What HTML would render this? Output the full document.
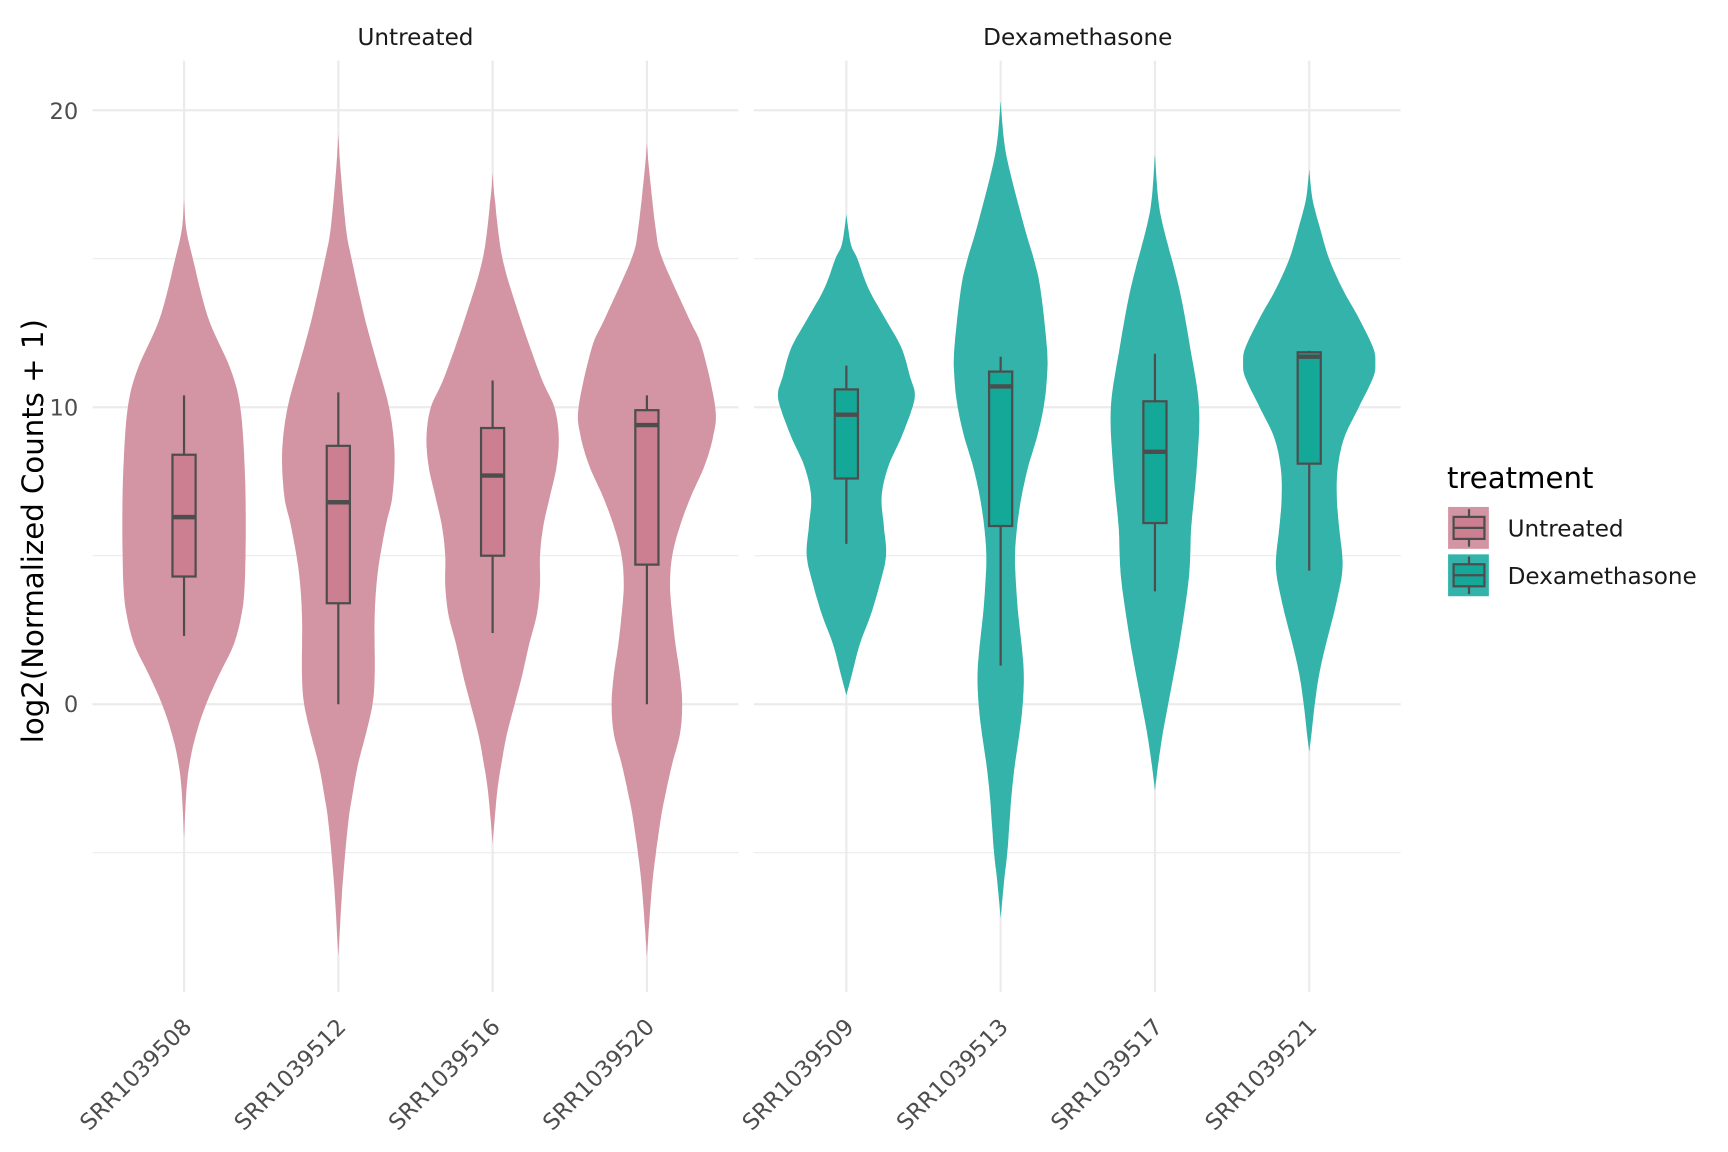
<!DOCTYPE html>
<html><head><meta charset="utf-8"><style>
html,body{margin:0;padding:0;background:#fff;}
svg{display:block;}
text{font-family:"DejaVu Sans","Liberation Sans",sans-serif;}
</style></head><body>
<svg id="s" width="1728" height="1152" viewBox="0 0 1568 1045.3" xmlns="http://www.w3.org/2000/svg">
<rect width="1568" height="1046" fill="#fff"/>
<g id="grid"></g>
<g id="vio"></g>
<g id="box"></g>
<text x="377" y="41" font-size="21" text-anchor="middle" fill="#1a1a1a">Untreated</text>
<text x="978" y="41" font-size="21" text-anchor="middle" fill="#1a1a1a">Dexamethasone</text>
<g font-size="20.5" fill="#4d4d4d" text-anchor="end">
<text x="71" y="108">20</text><text x="71" y="377">10</text><text x="71" y="646">0</text>
</g>
<text transform="translate(39,482) rotate(-90)" font-size="26.5" text-anchor="middle" fill="#000">log2(Normalized Counts + 1)</text>
<g id="xl" font-size="20.5" fill="#4d4d4d" text-anchor="end"></g>
<text x="1313" y="443" font-size="26.5" fill="#000">treatment</text>
<g>
<rect x="1314" y="460" width="37" height="38" fill="#d395a3"/>
<rect x="1319" y="469" width="28" height="20" fill="#cc7f90" stroke="#4d4d4d" stroke-width="2"/>
<line x1="1319" y1="479" x2="1347" y2="479" stroke="#4d4d4d" stroke-width="2"/>
<line x1="1333" y1="462" x2="1333" y2="469" stroke="#4d4d4d" stroke-width="2"/>
<line x1="1333" y1="489" x2="1333" y2="496" stroke="#4d4d4d" stroke-width="2"/>
<rect x="1314" y="503" width="37" height="38" fill="#33b3aa"/>
<rect x="1319" y="512" width="28" height="20" fill="#14a898" stroke="#4d4d4d" stroke-width="2"/>
<line x1="1319" y1="522" x2="1347" y2="522" stroke="#4d4d4d" stroke-width="2"/>
<line x1="1333" y1="505" x2="1333" y2="512" stroke="#4d4d4d" stroke-width="2"/>
<line x1="1333" y1="532" x2="1333" y2="539" stroke="#4d4d4d" stroke-width="2"/>
<text x="1368" y="487" font-size="21" fill="#1a1a1a">Untreated</text>
<text x="1368" y="530" font-size="21" fill="#1a1a1a">Dexamethasone</text>
</g>
</svg>
<script>
var NS="http://www.w3.org/2000/svg";
function el(p,t,a){var e=document.createElementNS(NS,t);for(var k in a)e.setAttribute(k,a[k]);p.appendChild(e);return e;}
function Y(v){return 639-26.95*v;}
var grid=document.getElementById('grid');
var panels=[[84,670],[684,1271]];
var xs=[167,307,447,587,768,908,1048,1188];
panels.forEach(function(p){
 [20,10,0].forEach(function(v){el(grid,'line',{x1:p[0],x2:p[1],y1:Y(v),y2:Y(v),stroke:'#ebebeb','stroke-width':2});});
 [15,5,-5].forEach(function(v){el(grid,'line',{x1:p[0],x2:p[1],y1:Y(v),y2:Y(v),stroke:'#ebebeb','stroke-width':1});});
});
xs.forEach(function(x){el(grid,'line',{x1:x,x2:x,y1:55,y2:900,stroke:'#ebebeb','stroke-width':2});});
var V=[
[[17,0],[16,2],[15,8],[13,22],[11.3,42],[10,51],[8,55],[6,56],[4,55],[3,52],[2,45],[1,32],[0,20],[-1,11],[-2,5],[-3,2],[-4.5,0]],
[[19.2,0],[18,2],[16,7],[15,12],[13,24],[11.5,35],[10,46],[8.5,51],[7,49],[6,43],[4.5,36],[3,33],[1,33],[0,31],[-1,25],[-2,18],[-3,13],[-4,9],[-6,4],[-8.5,0]],
[[17.9,0],[17,2],[15,9],[13,25],[11,44],[10,56],[9,60],[8,58],[7,52],[6,46],[5,43],[4,43],[3,40],[2,33],[1,27],[0,20],[-1,13],[-2,8],[-3,4],[-4.7,0]],
[[18.9,0],[18,2],[16,8],[15,14],[13,38],[12,50],[10,62],[9,60],[8,52],[7,40],[6,30],[5,23],[4,21],[3,23],[2,26],[1,30],[0,32],[-1,30],[-2,23],[-3,17],[-4,12],[-6,5],[-8.5,0]],
[[16.5,0],[15.5,4],[15,10],[14,20],[13,35],[12,50],[11,58],[10.5,62],[10,60],[9,50],[8,38],[7,32],[6,34],[5,36],[4,30],[3,22],[2,12],[1,5],[0.3,0]],
[[20.3,0],[19,3],[18,8],[16,22],[15,30],[14,36],[12,42],[11,42],[10,39],[9,33],[8,25],[7,19],[6,15],[5,13],[4,14],[3,16],[2,19],[1,21],[0,20],[-1,17],[-2,13],[-3,10],[-4,8],[-5,6],[-6,3],[-7.2,0]],
[[18.5,0],[17,3],[16,8],[14,22],[12,32],[10,40],[8,38],[6,33],[5,32],[4,30],[2,22],[0,12],[-1,7],[-2,3],[-2.9,0]],
[[18,0],[17,3],[16,10],[15,18],[14,30],[13,45],[12,58],[11.5,60],[11,58],[10,45],[9,32],[8,26],[7,25],[6,27],[5,30],[4.5,30],[4,28],[3,22],[2,15],[1,9],[0,5],[-1,2],[-1.6,0]]
];
function sample(pts){var out=[];var n=pts.length;
 for(var i=0;i<n-1;i++){var p0=pts[Math.max(0,i-1)],p1=pts[i],p2=pts[i+1],p3=pts[Math.min(n-1,i+2)];
  for(var t=0;t<1;t+=0.1){var t2=t*t,t3=t2*t;
   var f=function(a,b,c,d){return 0.5*((2*b)+(-a+c)*t+(2*a-5*b+4*c-d)*t2+(-a+3*b-3*c+d)*t3);};
   out.push([f(p0[0],p1[0],p2[0],p3[0]),Math.max(0,f(p0[1],p1[1],p2[1],p3[1]))]);}}
 out.push(pts[n-1]);return out;}
var vio=document.getElementById('vio');
V.forEach(function(pts,i){var x=xs[i];var s=sample(pts);var d='';
 s.forEach(function(p,j){d+=(j?'L':'M')+(x+p[1]).toFixed(1)+','+Y(p[0]).toFixed(1);});
 for(var j=s.length-1;j>=0;j--){d+='L'+(x-s[j][1]).toFixed(1)+','+Y(s[j][0]).toFixed(1);}
 d+='Z';el(vio,'path',{d:d,fill:i<4?'#d395a3':'#33b3aa'});});
var B=[[10.4,8.4,6.3,4.3,2.3],[10.5,8.7,6.8,3.4,0],[10.9,9.3,7.7,5.0,2.4],[10.4,9.9,9.4,4.7,0],
[11.4,10.6,9.75,7.6,5.4],[11.7,11.2,10.7,6.0,1.3],[11.8,10.2,8.5,6.1,3.8],[11.9,11.85,11.7,8.1,4.5]];
var box=document.getElementById('box');
B.forEach(function(b,i){var x=xs[i],w=10.5,c='#4d4d4d';
 el(box,'line',{x1:x,x2:x,y1:Y(b[0]),y2:Y(b[1]),stroke:c,'stroke-width':2});
 el(box,'line',{x1:x,x2:x,y1:Y(b[3]),y2:Y(b[4]),stroke:c,'stroke-width':2});
 el(box,'rect',{x:x-w,y:Y(b[1]),width:2*w,height:Y(b[3])-Y(b[1]),fill:i<4?'#cc7f90':'#14a898',stroke:c,'stroke-width':2});
 el(box,'line',{x1:x-w,x2:x+w,y1:Y(b[2]),y2:Y(b[2]),stroke:c,'stroke-width':4});});
var names=['SRR1039508','SRR1039512','SRR1039516','SRR1039520','SRR1039509','SRR1039513','SRR1039517','SRR1039521'];
var xl=document.getElementById('xl');
names.forEach(function(n,i){var t=el(xl,'text',{transform:'translate('+(xs[i]+8)+',933) rotate(-45)'});t.textContent=n;});
</script>
</body></html>
